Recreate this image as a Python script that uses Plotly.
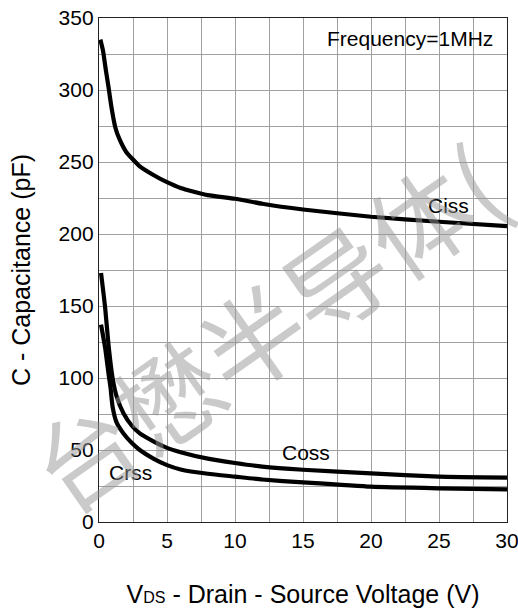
import plotly.graph_objects as go

# Capacitance vs. drain-source voltage (f = 1 MHz)
vds_ciss = [0.1, 0.3, 0.5, 0.7, 0.9, 1.2, 1.5, 2, 3, 4, 5, 6, 8, 10, 12, 15, 20, 25, 30]
ciss = [335, 327, 314, 302, 289, 274, 266, 257, 247, 241, 236, 232, 227, 224.5, 221, 217, 212, 208.5, 205.5]

vds_coss = [0.15, 0.45, 0.7, 1.0, 1.3, 1.8, 2.4, 3, 4, 5, 6, 8, 10, 12, 15, 20, 25, 30]
coss = [173, 149, 123, 100, 87, 75.5, 67, 61.5, 56, 51.5, 48.5, 44, 41, 38.5, 36.3, 33.8, 31.5, 30.8]

vds_crss = [0.15, 0.45, 0.7, 0.85, 1.0, 1.3, 1.8, 2.4, 3, 4, 5, 6, 8, 10, 12, 15, 20, 25, 30]
crss = [137, 121, 103, 93, 80, 69, 61.5, 55, 50, 44, 39.5, 36.5, 33.5, 31.5, 29.5, 27.5, 24.5, 23.4, 22.7]

x_ticks = [0, 5, 10, 15, 20, 25, 30]
y_ticks = [0, 50, 100, 150, 200, 250, 300, 350]

FONT = "Liberation Sans, Arial, sans-serif"
GRID = "#a0a0a0"

fig = go.Figure()
for xs, ys in [(vds_ciss, ciss), (vds_coss, coss), (vds_crss, crss)]:
    fig.add_trace(go.Scatter(
        x=xs, y=ys, mode="lines",
        line=dict(color="black", width=4.2, shape="spline", smoothing=0.5),
        showlegend=False, hoverinfo="skip",
    ))

axis_common = dict(
    showline=True, linecolor="#222", linewidth=1.3, mirror=True,
    showgrid=True, gridcolor=GRID, gridwidth=1,
    zeroline=False, ticks="", automargin=False, ticklabeloverflow="allow",
    tickfont=dict(family=FONT, size=21, color="black"),
)

fig.update_xaxes(
    range=[0, 30], tickvals=x_ticks,
    minor=dict(dtick=2.5, showgrid=True, gridcolor=GRID, gridwidth=1),
    title=dict(text="V<span style='font-size:16px'>DS</span> - Drain - Source Voltage (V)",
               font=dict(family=FONT, size=25, color="black"), standoff=34),
    **axis_common,
)
fig.update_yaxes(
    range=[0, 350], tickvals=y_ticks,
    minor=dict(dtick=25, showgrid=True, gridcolor=GRID, gridwidth=1),
    title=dict(text="C - Capacitance (pF)",
               font=dict(family=FONT, size=25, color="black"), standoff=20),
    **axis_common,
)

labels = [
    ("Frequency=1MHz", 22.9, 336),
    ("Ciss", 25.7, 220),
    ("Coss", 15.2, 48.6),
    ("Crss", 2.3, 34.2),
]
for text, x, y in labels:
    fig.add_annotation(x=x, y=y, text=text, showarrow=False,
                       font=dict(family=FONT, size=21, color="black"))

# faint diagonal watermark
fig.add_annotation(
    xref="paper", yref="paper", x=0.405, y=0.39,
    text="台懋半导体(", showarrow=False, textangle=-35,
    font=dict(family="Noto Sans CJK SC", size=102, color="rgba(150,150,150,0.5)"),
)

fig.update_layout(
    width=518, height=609,
    margin=dict(l=99, r=11, t=18, b=87),
    paper_bgcolor="white", plot_bgcolor="white",
)

fig.write_html("out.html")
